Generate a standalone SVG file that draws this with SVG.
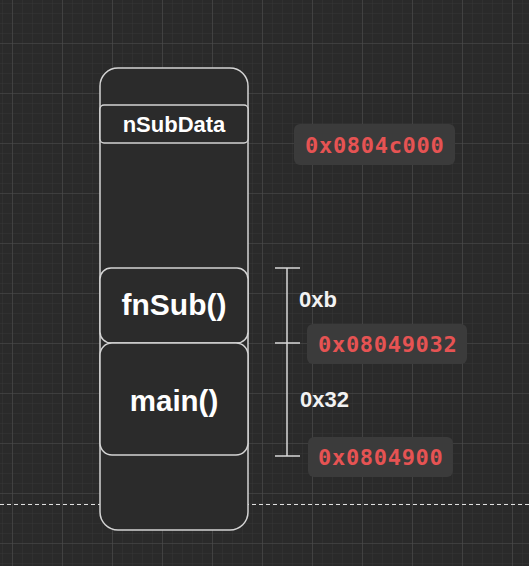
<svg xmlns="http://www.w3.org/2000/svg" width="529" height="566" viewBox="0 0 529 566">
  <defs>
    <pattern id="minor" x="2" y="3" width="10" height="10" patternUnits="userSpaceOnUse">
      <path d="M0 0H10M0 0V10" fill="none" stroke="#363636" stroke-width="1"/>
    </pattern>
    <pattern id="major" x="12" y="43" width="50" height="50" patternUnits="userSpaceOnUse">
      <path d="M0 0H50M0 0V50" fill="none" stroke="#4c4c4c" stroke-width="1.2"/>
    </pattern>
    <style>
      .box { fill: #2b2b2b; stroke: #d4d4d4; stroke-width: 1.5; }
      .lbl { font-family: "Liberation Sans", Arial, sans-serif; font-weight: bold; fill: #ffffff; text-anchor: middle; }
      .size { font-family: "Liberation Sans", Arial, sans-serif; font-weight: bold; fill: #f2f2f2; font-size: 22px; }
      .addrbg { fill: #3b3b3b; }
      .addr { font-family: "DejaVu Sans Mono", "Liberation Mono", monospace; font-weight: bold; fill: #e65353; font-size: 22px; letter-spacing: 0.7px; }
      .br { stroke: #d8d8d8; stroke-width: 1.5; fill: none; }
    </style>
  </defs>
  <rect width="529" height="566" fill="#2a2a2a"/>
  <rect width="529" height="566" fill="url(#minor)"/>
  <rect width="529" height="566" fill="url(#major)"/>

  <line x1="0" y1="504.5" x2="529" y2="504.5" stroke="#e0e0e0" stroke-width="1" stroke-dasharray="4 3"/>

  <g id="stack">
    <rect class="box" x="100" y="68" width="148" height="462" rx="18" ry="18"/>
  </g>
  <g id="nSubData">
    <rect class="box" x="100" y="105" width="148" height="38" rx="4" ry="4"/>
    <text class="lbl" x="174" y="132" font-size="22">nSubData</text>
  </g>
  <g id="fnSub">
    <rect class="box" x="100" y="268" width="148" height="75" rx="11" ry="11"/>
    <text class="lbl" x="174" y="315" font-size="30">fnSub()</text>
  </g>
  <g id="main">
    <rect class="box" x="100" y="343" width="148" height="112" rx="12" ry="12"/>
    <text class="lbl" x="174" y="411" font-size="29.5">main()</text>
  </g>

  <g id="connectors">
    <line class="br" x1="287" y1="268" x2="287" y2="456"/>
    <line class="br" x1="275" y1="268" x2="300" y2="268"/>
    <line class="br" x1="275" y1="343" x2="300" y2="343"/>
    <line class="br" x1="275" y1="456" x2="300" y2="456"/>
  </g>

  <g id="size-0xb">
    <text class="size" x="299" y="307">0xb</text>
  </g>
  <g id="size-0x32">
    <text class="size" x="300" y="407">0x32</text>
  </g>

  <g id="addr-0804c000">
    <rect class="addrbg" x="294" y="124" width="161" height="41" rx="6"/>
    <text class="addr" x="305" y="153">0x0804c000</text>
  </g>
  <g id="addr-08049032">
    <rect class="addrbg" x="307" y="324" width="160" height="40" rx="6"/>
    <text class="addr" x="318" y="352">0x08049032</text>
  </g>
  <g id="addr-0804900">
    <rect class="addrbg" x="308" y="437" width="145" height="40" rx="6"/>
    <text class="addr" x="318" y="465">0x0804900</text>
  </g>
</svg>
